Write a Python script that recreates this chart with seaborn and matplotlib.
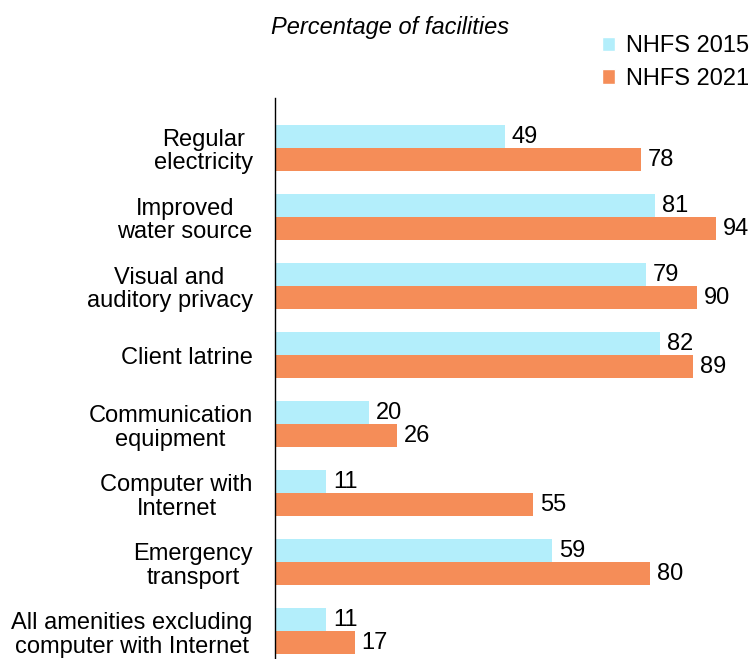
import matplotlib
matplotlib.use('Agg')
import pandas as pd
import matplotlib.pyplot as plt
import seaborn as sns
from matplotlib.patches import Patch

categories = [
    'Regular\nelectricity',
    'Improved\nwater source',
    'Visual and\nauditory privacy',
    'Client latrine',
    'Communication\nequipment',
    'Computer with\nInternet',
    'Emergency\ntransport',
    'All amenities excluding\ncomputer with Internet',
]
nhfs_2015 = [49, 81, 79, 82, 20, 11, 59, 11]
nhfs_2021 = [78, 94, 90, 89, 26, 55, 80, 17]
series = ['NHFS 2015', 'NHFS 2021']
colors = ['#b3eefb', '#f58d58']

d = pd.DataFrame({
    'category': categories * 2,
    'value': nhfs_2015 + nhfs_2021,
    'survey': [series[0]] * len(categories) + [series[1]] * len(categories),
})

sns.set_style('white')
plt.rcParams['font.family'] = ['Liberation Sans', 'DejaVu Sans']
plt.rcParams['text.color'] = 'black'
plt.rcParams['ytick.color'] = 'black'
plt.rcParams['ytick.labelcolor'] = 'black'

fs = 17

fig = plt.figure(figsize=(7.51, 6.59), dpi=100)
ax = fig.add_axes([0.366, 0.0, 0.625, 0.851])

sns.barplot(data=d, y='category', x='value', hue='survey', orient='h',
            palette=colors, width=0.667, gap=0, saturation=1,
            order=categories, hue_order=series, legend=False, ax=ax,
            edgecolor='none', linewidth=0)

for c in ax.containers:
    ax.bar_label(c, labels=[str(int(v)) for v in c.datavalues], padding=5,
                 fontsize=fs, color='black')

ax.set_xlim(0, 100)
ax.set_ylim(7.4, -0.725)
ax.set_xlabel('')
ax.set_ylabel('')
ax.set_xticks([])
ax.tick_params(axis='y', length=0, pad=16, labelsize=fs, labelcolor='black')
for lab in ax.get_yticklabels():
    lab.set_multialignment('center')
    lab.set_linespacing(1.1)
for s in ['top', 'right', 'bottom']:
    ax.spines[s].set_visible(False)
ax.spines['left'].set_color('black')
ax.spines['left'].set_linewidth(1.0)

fig.text(0.52, 0.958, 'Percentage of facilities', ha='center', va='center',
         fontsize=fs, style='italic')

handles = [Patch(facecolor=colors[0]), Patch(facecolor=colors[1])]
fig.legend(handles, series, loc='upper right', bbox_to_anchor=(1.016, 0.968),
           frameon=False, fontsize=fs, handlelength=0.55, handleheight=0.55,
           handletextpad=0.45, labelspacing=0.45, borderaxespad=0.2)

plt.savefig('out.png', dpi=100)
